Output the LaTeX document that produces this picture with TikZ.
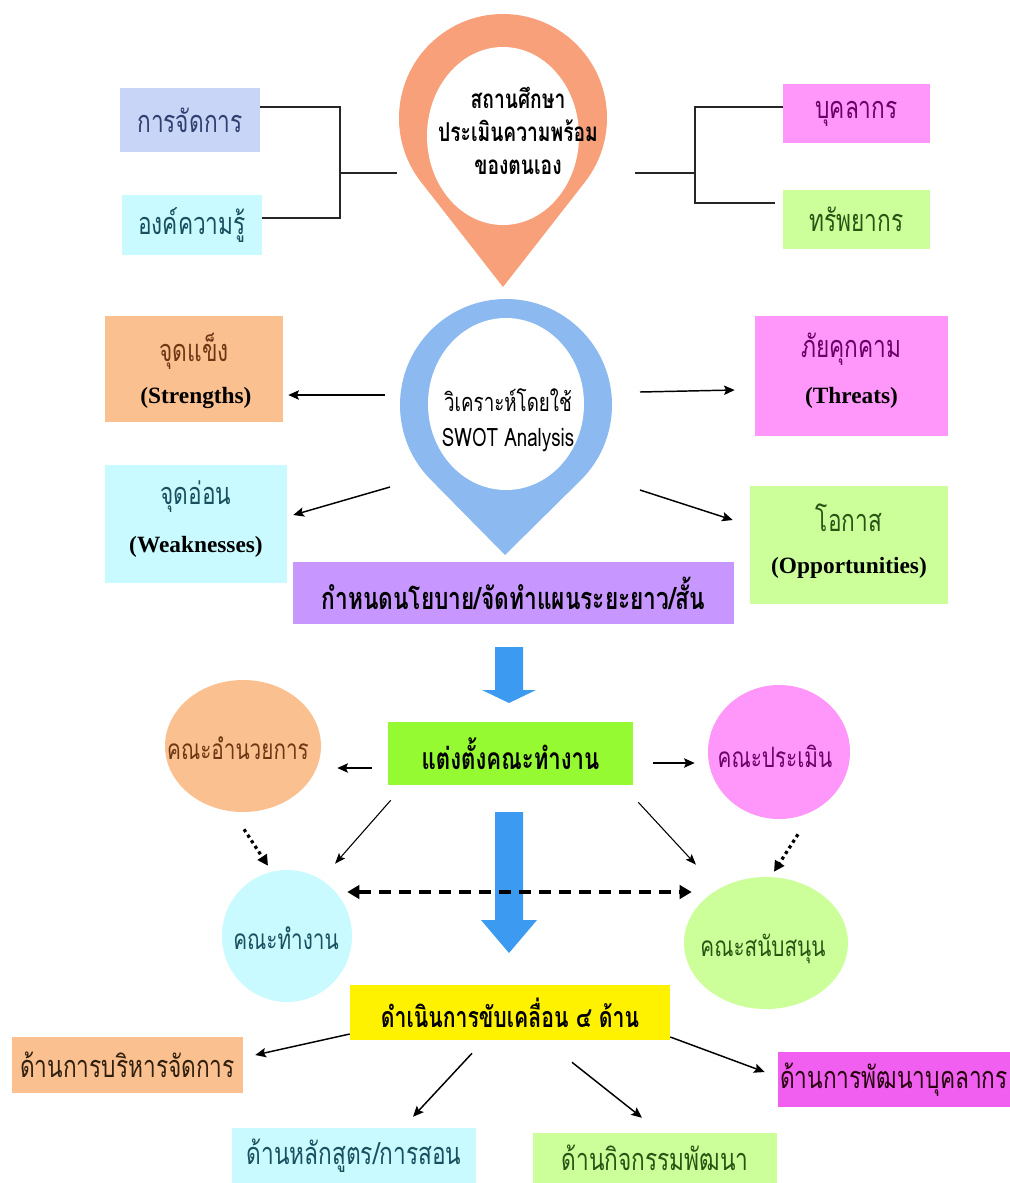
\documentclass[tikz,border=0pt]{standalone}
\usepackage{fontspec}
\setmainfont{Liberation Serif}
\newfontfamily\thaifont[Script=Thai,FakeStretch=0.74]{Loma}
\usetikzlibrary{arrows.meta,shapes.geometric}
\definecolor{pinorange}{RGB}{247,160,122}
\definecolor{pinblue}{RGB}{140,185,240}
\definecolor{arrowblue}{RGB}{60,155,240}
\definecolor{lavblue}{RGB}{201,213,247}
\definecolor{lcyan}{RGB}{200,250,255}
\definecolor{lmag}{RGB}{255,150,250}
\definecolor{lgreen}{RGB}{204,255,153}
\definecolor{lorange}{RGB}{250,192,143}
\definecolor{lpurple}{RGB}{200,150,255}
\definecolor{bgreen}{RGB}{150,250,50}
\definecolor{dmag}{RGB}{240,95,240}
\definecolor{tblue}{RGB}{46,63,112}
\definecolor{tteal}{RGB}{25,80,95}
\definecolor{tpurple}{RGB}{105,0,105}
\definecolor{tgreen}{RGB}{40,85,20}
\definecolor{tbrown}{RGB}{110,55,20}
\begin{document}
\begin{tikzpicture}[x=0.75pt,y=-0.75pt,
  box/.style={rectangle,inner sep=0pt,font=\thaifont\fontsize{23}{26}\selectfont},
  ell/.style={ellipse,inner sep=0pt},
  elltext/.style={inner sep=0pt,font=\thaifont\fontsize{21}{24}\selectfont},
  thtext/.style={inner sep=0pt,font=\thaifont\fontsize{23}{26}\selectfont},
  entext/.style={inner sep=0pt,font=\bfseries\fontsize{17.5}{20}\selectfont},
  conn/.style={line width=1.1pt,draw=black!85},
  arr/.style={line width=1.1pt,-{Stealth[length=8pt,width=7pt,inset=1.5pt]}},
  thinarr/.style={line width=0.8pt,-{Stealth[length=8pt,width=6pt,inset=1.5pt]}},
  dotarr/.style={line width=2.4pt,dash pattern=on 2.4pt off 2.6pt,-{Triangle[length=8pt,width=8pt]}},
  dasharr/.style={line width=3pt,dash pattern=on 9pt off 6pt,{Triangle[length=9pt,width=10pt]}-{Triangle[length=9pt,width=10pt]}}
]
\useasboundingbox (0,0) rectangle (1010,1183);
\fill[white] (0,0) rectangle (1010,1183);

% ---------- top orange pin ----------
\fill[pinorange] (503,287) -- ([shift={(142:104)}]503,118) arc[start angle=142,end angle=398,radius=104] -- cycle;
\fill[white] (503,136) ellipse[x radius=76,y radius=89];
\node[align=center,inner sep=0pt,font=\thaifont\bfseries\fontsize{19.5}{24.75}\selectfont] (pino) at (518,131)
  {สถานศึกษา\\ประเมินความพร้อม\\ของตนเอง};

% top boxes
\node[box,fill=lavblue,minimum width=105pt,minimum height=48pt,text=tblue] (b1) at (190,120) {การจัดการ};
\node[box,fill=lcyan,minimum width=105pt,minimum height=45pt,text=tteal] (b2) at (192,225) {องค์ความรู้};
\node[box,fill=lmag,minimum width=110.25pt,minimum height=44.25pt,text=tpurple] (b3) at (856.5,113.5) {บุคลากร};
\node[box,fill=lgreen,minimum width=110.25pt,minimum height=44.25pt,text=tgreen] (b4) at (856.5,219.5) {ทรัพยากร};

\coordinate (jl) at (340,173);
\coordinate (jr) at (695,173);
\draw[conn] ([yshift=9.75pt]b1.east) -| (jl);
\draw[conn] ([yshift=5.25pt]b2.east) -| (jl);
\draw[conn] (jl) -- ([shift={(-121,42)}]pino.center);
\draw[conn] ([shift={(117,42)}]pino.center) -- (jr);
\draw[conn] (jr) |- ([yshift=4.9pt]b3.west);
\draw[conn] (jr) |- ([shift={(-8,-16.5)}]b4.west);

% ---------- blue pin ----------
\fill[pinblue] (505,555) -- ([shift={(135:106)}]506,405) arc[start angle=135,end angle=405,radius=106] -- cycle;
\fill[white] (506,404) ellipse[x radius=78,y radius=86];
\node[align=center,inner sep=0pt,font=\thaifont\fontsize{19}{26}\selectfont] (pinb) at (508,420)
  {วิเคราะห์โดยใช้\\SWOT Analysis};

% SWOT boxes
\node[box,fill=lorange,minimum width=133.5pt,minimum height=79.5pt] (S) at (194,369) {};
\node[thtext,text=tbrown] (St) at (194,351) {จุดแข็ง};
\node[entext] (Se) at (196,398) {(Strengths)};
\node[box,fill=lmag,minimum width=144.75pt,minimum height=90pt] (T) at (851.5,376) {};
\node[thtext,text=tpurple] (Tt) at (851.5,349) {ภัยคุกคาม};
\node[entext] (Te) at (851.5,398) {(Threats)};
\node[box,fill=lcyan,minimum width=136.5pt,minimum height=88.5pt] (W) at (196,524) {};
\node[thtext,text=tteal] (Wt) at (196,497) {จุดอ่อน};
\node[entext] (We) at (196,547) {(Weaknesses)};
\node[box,fill=lgreen,minimum width=148.5pt,minimum height=88.5pt] (O) at (849,545) {};
\node[thtext,text=tgreen] (Ot) at (849,518) {โอกาส};
\node[entext] (Oe) at (849,568) {(Opportunities)};

\draw[arr] ([shift={(-123,-25)}]pinb.center) -- ([shift={(5,26)}]S.east);
\draw[arr] ([shift={(132,-28)}]pinb.center) -- ([shift={(-20,14)}]T.west);
\draw[arr] ([shift={(-118,67)}]pinb.center) -- ([shift={(6,-9)}]W.east);
\draw[arr] ([shift={(132,70)}]pinb.center) -- ([shift={(-17,-25)}]O.west);

\node[box,fill=lpurple,minimum width=330.75pt,minimum height=46.5pt,font=\thaifont\bfseries\fontsize{23}{26}\selectfont] (P) at (513.5,593) {กำหนดนโยบาย/จัดทำแผนระยะยาว/สั้น};

% big arrow 1
\fill[arrowblue] (495,647) -- (523,647) -- (523,690) -- (536,690) -- (509,703) -- (482,690) -- (495,690) -- cycle;

% ---------- committees ----------
\node[box,fill=bgreen,minimum width=183.75pt,minimum height=47.25pt,font=\thaifont\bfseries\fontsize{22.5}{26}\selectfont] (G) at (510.5,753.5) {แต่งตั้งคณะทำงาน};
\node[ell,fill=lorange,minimum width=117pt,minimum height=99pt] (E1) at (243,746) {};
\node[elltext,text=tbrown] (E1t) at (238,748) {คณะอำนวยการ};
\node[ell,fill=lmag,minimum width=106.5pt,minimum height=100.5pt] (E2) at (779,752) {};
\node[elltext,text=tpurple] (E2t) at (775,756) {คณะประเมิน};
\node[ell,fill=lcyan,minimum width=97.5pt,minimum height=99pt] (E3) at (287,936) {};
\node[elltext,text=tteal] (E3t) at (286,938) {คณะทำงาน};
\node[ell,fill=lgreen,minimum width=123pt,minimum height=99pt] (E4) at (766,943) {};
\node[elltext,text=tgreen] (E4t) at (763,949) {คณะสนับสนุน};

% big arrow 2
\fill[arrowblue] (495,812) -- (523,812) -- (523,920) -- (537,920) -- (509,953) -- (481,920) -- (495,920) -- cycle;

\draw[arr] ([shift={(-16,14.5)}]G.west) -- ([shift={(16,22)}]E1.east);
\draw[arr] ([shift={(20,9.5)}]G.east) -- ([shift={(-13,11)}]E2.west);
\draw[thinarr] ([shift={(3,15)}]G.south west) -- ([shift={(48,-6)}]E3.north);
\draw[thinarr] ([shift={(5,17)}]G.south east) -- ([shift={(-70,-12)}]E4.north);
\draw[dotarr] ([shift={(1,17)}]E1.south) -- ([shift={(-19,-4)}]E3.north);
\draw[dotarr] ([shift={(19,15)}]E2.south) -- ([shift={(8,-5)}]E4.north);
\draw[dasharr] ([shift={(-5,-44)}]E3.east) -- ([shift={(8,-51)}]E4.west);

% ---------- four areas ----------
\node[box,fill=yellow,minimum width=240pt,minimum height=41.25pt,font=\thaifont\bfseries\fontsize{21.5}{24}\selectfont] (Y) at (510,1012.5) {ดำเนินการขับเคลื่อน ๔ ด้าน};
\node[box,fill=lorange,minimum width=173.25pt,minimum height=42pt,text=black!75!brown] (B1) at (127.5,1065) {ด้านการบริหารจัดการ};
\node[box,fill=dmag,minimum width=174pt,minimum height=41.25pt,text=black!80!purple] (B2) at (894,1079.5) {ด้านการพัฒนาบุคลากร};
\node[box,fill=lcyan,minimum width=183pt,minimum height=41.25pt,text=tteal] (B3) at (354,1155.5) {ด้านหลักสูตร/การสอน};
\node[box,fill=lgreen,minimum width=183pt,minimum height=37.5pt,text=tgreen] (B4) at (655,1158) {ด้านกิจกรรมพัฒนา};

\draw[arr] ([shift={(0,21.5)}]Y.west) -- ([shift={(12,-10)}]B1.east);
\draw[arr] ([shift={(-38,13)}]Y.south) -- ([shift={(59,-11)}]B3.north);
\draw[arr] ([shift={(62,22)}]Y.south) -- ([shift={(-13,-15)}]B4.north);
\draw[arr] ([shift={(0,24.5)}]Y.east) -- ([shift={(-13,-7.5)}]B2.west);
\end{tikzpicture}
\end{document}
